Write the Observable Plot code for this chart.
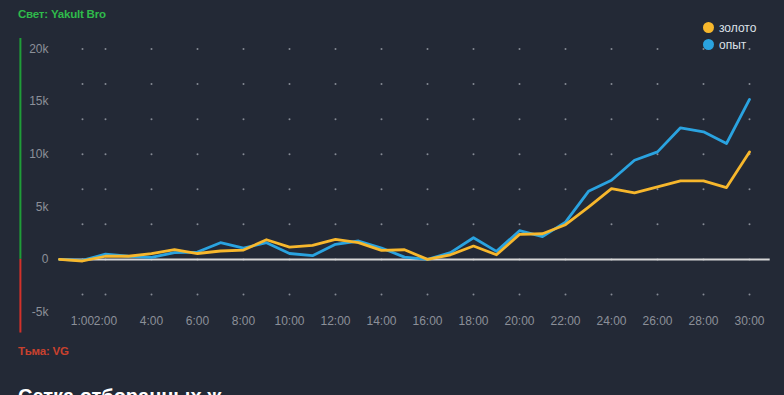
<!DOCTYPE html>
<html><head><meta charset="utf-8">
<script src="https://cdn.jsdelivr.net/npm/d3@7"></script>
<script src="https://cdn.jsdelivr.net/npm/@observablehq/plot@0.6"></script>
<style>
html,body{margin:0;padding:0;background:#232936;}
#wrap{position:relative;width:784px;height:395px;overflow:hidden;background:#232936;font-family:"Liberation Sans",Arial,sans-serif;}
#chart{position:absolute;left:0;top:0;}
.lbl{position:absolute;font-weight:bold;font-size:11.5px;white-space:nowrap;letter-spacing:-0.2px;}
.leg{position:absolute;font-size:12px;color:#dde1e8;white-space:nowrap;}
.leg span{display:inline-block;width:11px;height:11px;border-radius:50%;vertical-align:-1px;margin-right:5px;}
</style></head>
<body>
<div id="wrap">
  <div id="chart"></div>
  <div class="lbl" style="left:18px;top:8px;color:#2fba4b;">Свет: Yakult Bro</div>
  <div class="lbl" style="left:18px;top:345px;color:#c9412e;">Тьма: VG</div>
  <div class="leg" style="left:703px;top:21px;"><span style="background:#f7b72c"></span>золото</div>
  <div class="leg" style="left:703px;top:38px;"><span style="background:#2aa3e0"></span>опыт</div>
  <div style="position:absolute;left:18px;top:385px;color:#ffffff;font-weight:bold;font-size:20px;white-space:nowrap;">Сетка отборанных ж</div>
</div>
<script>
const minutes = d3.range(0, 31);
const gold = [0,-150,300,300,550,920,560,800,890,1870,1170,1330,1900,1590,860,920,0,440,1270,440,2380,2440,3300,4980,6720,6320,6890,7460,7460,6830,10220];
const xp   = [0,-100,500,300,200,640,700,1590,1080,1590,560,350,1430,1750,1080,220,0,640,2060,760,2730,2160,3550,6470,7520,9430,10220,12510,12130,11020,15210];
const xTicks = [1,2,4,6,8,10,12,14,16,18,20,22,24,26,28,30];
const yTicks = [-5000,0,5000,10000,15000,20000];
const dotRows = [-10000/3,0,10000/3,20000/3,10000,40000/3,50000/3,20000];
const sideBarX = -1.7;
const yMin = -5000, yMax = 21000, darkBottom = -7000;

const rows = minutes.map((m,i)=>({m, gold: gold[i], xp: xp[i]}));
const grid = [];
for (const x of xTicks) for (const y of dotRows) grid.push({x,y});

const chart = Plot.plot({
  width: 784, height: 395,
  marginLeft: 59, marginRight: 35, marginTop: 38, marginBottom: 83.5,
  x: {domain: [0, 30]},
  y: {domain: [yMin, yMax]},
  style: {background: "transparent", color: "#8c9099", fontSize: "12px", fontFamily: "'Liberation Sans', Arial, sans-serif"},
  marks: [
    Plot.dot(grid, {x: "x", y: "y", r: 1, fill: "#858a94", stroke: null}),
    Plot.ruleX([sideBarX], {y1: 0, y2: yMax, stroke: "#1f9d38", strokeWidth: 2}),
    Plot.ruleX([sideBarX], {y1: darkBottom, y2: 0, stroke: "#d2312a", strokeWidth: 2}),
    Plot.ruleY([0], {x1: 0, x2: 30.9, stroke: "#d6d6d6", strokeWidth: 2}),
    Plot.line(rows, {x: "m", y: "xp", stroke: "#2aa3e0", strokeWidth: 2.8}),
    Plot.line(rows, {x: "m", y: "gold", stroke: "#f7b72c", strokeWidth: 2.8}),
    Plot.axisY({ticks: yTicks, tickSize: 0, tickPadding: 11, tickFormat: d => d === 0 ? "0" : (d/1000) + "k", label: null}),
    Plot.axisX({ticks: xTicks, tickSize: 0, tickPadding: 4, tickFormat: d => d + ":00", label: null})
  ]
});
document.getElementById("chart").appendChild(chart);
</script>
</body></html>
